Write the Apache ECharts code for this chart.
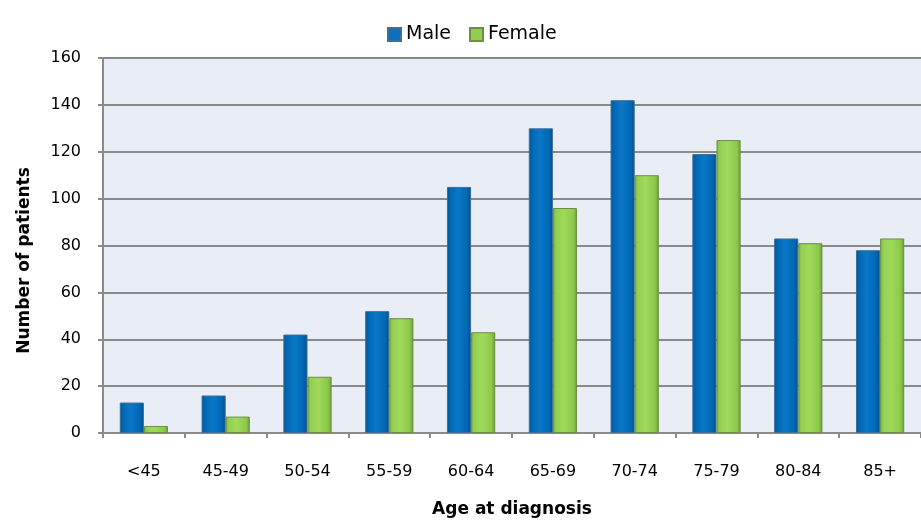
<!DOCTYPE html>
<html>
<head>
<meta charset="utf-8">
<script src="https://cdn.jsdelivr.net/npm/echarts@6/dist/echarts.min.js"></script>
<style>html,body{margin:0;padding:0;background:#fff;}#c{width:921px;height:523px;}</style>
</head>
<body>
<div id="c"></div>
<script>
const categories = ['<45','45-49','50-54','55-59','60-64','65-69','70-74','75-79','80-84','85+'];
const maleValues = [13, 16, 42, 52, 105, 130, 142, 119, 83, 78];
const femaleValues = [3, 7, 24, 49, 43, 96, 110, 125, 81, 83];
const yTicks = [0, 20, 40, 60, 80, 100, 120, 140, 160];

const FONT = 'DejaVu Sans';
const maleGrad = new echarts.graphic.LinearGradient(0, 0, 1, 0, [
  {offset: 0, color: '#004F8E'}, {offset: 0.12, color: '#0066B2'},
  {offset: 0.45, color: '#0A78C8'}, {offset: 0.85, color: '#0066B2'},
  {offset: 1, color: '#004A86'}
]);
const femaleGrad = new echarts.graphic.LinearGradient(0, 0, 1, 0, [
  {offset: 0, color: '#7AAE3E'}, {offset: 0.12, color: '#92CF50'},
  {offset: 0.45, color: '#A0DA5C'}, {offset: 0.85, color: '#8CC84A'},
  {offset: 1, color: '#6C9A34'}
]);

const chart = echarts.init(document.getElementById('c'), null, {renderer: 'canvas'});
chart.setOption({
  animation: false,
  backgroundColor: '#ffffff',
  legend: {
    left: 382, top: 20,
    itemWidth: 13, itemHeight: 13, itemGap: 18, itemTextGap: 8,
    icon: 'rect',
    textStyle: {fontFamily: FONT, fontSize: 19, color: '#000'},
    data: [
      {name: 'Male', itemStyle: {color: '#0A70BE'}},
      {name: 'Female', itemStyle: {color: '#92CF50'}}
    ]
  },
  grid: {
    left: 103, right: 0, top: 58, bottom: 90,
    show: true, backgroundColor: '#E9EEF6', borderWidth: 0
  },
  xAxis: {
    type: 'category',
    data: categories,
    name: 'Age at diagnosis',
    nameLocation: 'middle',
    nameGap: 68,
    nameTextStyle: {fontFamily: FONT, fontSize: 17, fontWeight: 'bold', color: '#000', verticalAlign: 'top'},
    axisLine: {lineStyle: {color: '#8A8A8A', width: 2}},
    axisTick: {show: true, length: 5, lineStyle: {color: '#8A8A8A', width: 2}},
    axisLabel: {fontFamily: FONT, fontSize: 16, color: '#000', margin: 31, interval: 0}
  },
  yAxis: {
    type: 'value',
    min: 0, max: 160, interval: 20,
    name: 'Number of patients',
    nameLocation: 'middle',
    nameGap: 70,
    nameTextStyle: {fontFamily: FONT, fontSize: 17, fontWeight: 'bold', color: '#000', padding: [0, 30, 0, 0]},
    axisLine: {show: true, lineStyle: {color: '#8A8A8A', width: 2}},
    axisTick: {show: true, length: 5, lineStyle: {color: '#8A8A8A', width: 2}},
    splitLine: {lineStyle: {color: '#8A8A8A', width: 2}},
    axisLabel: {fontFamily: FONT, fontSize: 16, color: '#000', margin: 22,
      formatter: function (v) { return yTicks.indexOf(v) >= 0 ? String(v) : ''; }}
  },
  series: [
    {name: 'Male', type: 'bar', data: maleValues, barGap: '0%', barCategoryGap: '41%',
     itemStyle: {color: maleGrad, borderColor: '#3F6E98', borderWidth: 1}},
    {name: 'Female', type: 'bar', data: femaleValues, barGap: '0%', barCategoryGap: '41%',
     itemStyle: {color: femaleGrad, borderColor: '#6E8F45', borderWidth: 1}}
  ]
});
</script>
</body>
</html>
